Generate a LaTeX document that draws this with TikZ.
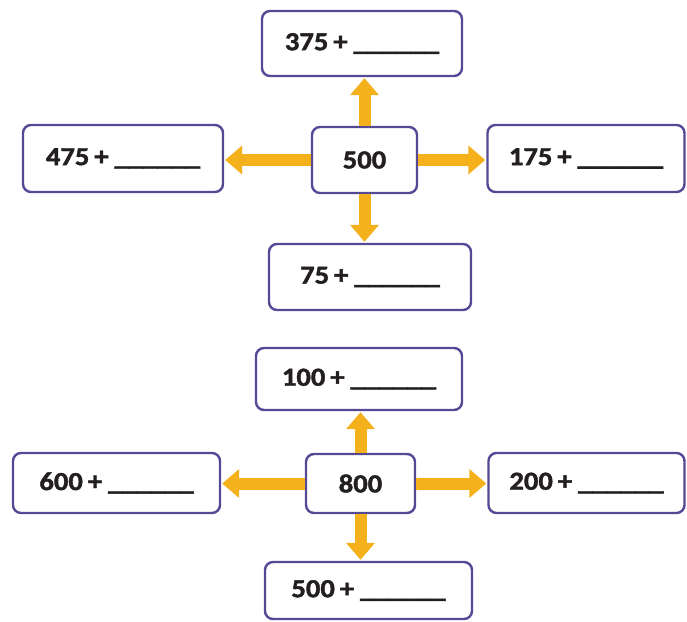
\documentclass[tikz,border=0pt]{standalone}
\usepackage{fontspec}
\usetikzlibrary{arrows.meta}
\newfontfamily\boxfont[FakeStretch=1.1,FakeBold=1.6]{Carlito}
\definecolor{boxline}{HTML}{554894}
\definecolor{arrowc}{HTML}{F4B11C}
\definecolor{txt}{HTML}{231F20}
\newcommand{\blankline}{\hspace{6pt}\_\_\_\_\_\_}
\newcommand{\plussign}{\hspace{5pt}+}
\tikzset{
  numbox/.style={draw=boxline, line width=2.4pt, rounded corners=8pt, fill=white,
    text=txt, font=\boxfont\bfseries\fontsize{26}{28}\selectfont, inner sep=0pt},
  bigarrow/.style={draw=arrowc, line width=12pt,
    -{Triangle[width=28pt,length=17pt,fill=arrowc]}, shorten >=1pt}
}
\begin{document}
\begin{tikzpicture}[x=1pt,y=-1pt]
\useasboundingbox (0,0) rectangle (687,621);
% top diagram
\node[numbox, minimum width=200pt, minimum height=65pt] (t1) at (362,43.5) {375\plussign\blankline};
\node[numbox, minimum width=105pt, minimum height=66pt] (c1) at (364.5,160) {500};
\node[numbox, minimum width=202pt, minimum height=66pt] (b1) at (370,277) {75\plussign\blankline};
\node[numbox, minimum width=200pt, minimum height=67pt] (l1) at (123,158.5) {475\plussign\blankline};
\node[numbox, minimum width=197pt, minimum height=67pt] (r1) at (586,158.5) {175\plussign\blankline};
\draw[bigarrow] (c1.north) -- (c1.north |- t1.south);
\draw[bigarrow] (c1.south) -- (c1.south |- b1.north);
\draw[bigarrow] (c1.west) -- (c1.west -| l1.east);
\draw[bigarrow] (c1.east) -- (c1.east -| r1.west);
% bottom diagram
\node[numbox, minimum width=206pt, minimum height=62pt] (t2) at (359,379) {100\plussign\blankline};
\node[numbox, minimum width=109pt, minimum height=59pt] (c2) at (360.5,483.5) {800};
\node[numbox, minimum width=207pt, minimum height=57pt] (b2) at (368.5,590.5) {500\plussign\blankline};
\node[numbox, minimum width=207pt, minimum height=60pt] (l2) at (116.5,483) {600\plussign\blankline};
\node[numbox, minimum width=196pt, minimum height=60pt] (r2) at (586.5,483) {200\plussign\blankline};
\draw[bigarrow] (c2.north) -- (c2.north |- t2.south);
\draw[bigarrow] (c2.south) -- (c2.south |- b2.north);
\draw[bigarrow] (c2.west) -- (c2.west -| l2.east);
\draw[bigarrow] (c2.east) -- (c2.east -| r2.west);
\end{tikzpicture}
\end{document}
